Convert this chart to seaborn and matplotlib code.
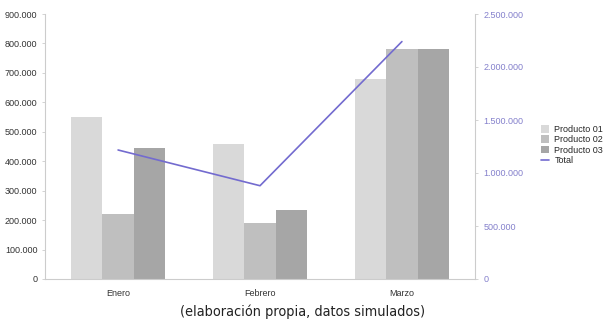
import numpy as np
import pandas as pd
import seaborn as sns
import matplotlib.pyplot as plt
from matplotlib.ticker import FuncFormatter

meses = ["Enero", "Febrero", "Marzo"]
productos = ["Producto 01", "Producto 02", "Producto 03"]
producto_01 = [550000, 457000, 678000]
producto_02 = [222000, 190000, 780000]
producto_03 = [445000, 233000, 782000]
total = [a + b + c for a, b, c in zip(producto_01, producto_02, producto_03)]

colores = ["#d9d9d9", "#bfbfbf", "#a6a6a6"]
color_linea = "#736bcf"
color_eje = "#cccccc"

sns.set_theme(style="white")
plt.rcParams['font.family'] = ['Liberation Sans', 'DejaVu Sans']

df = pd.DataFrame({"mes": meses * 3,
                   "producto": np.repeat(productos, len(meses)),
                   "valor": producto_01 + producto_02 + producto_03})

fig = plt.figure(figsize=(6.06, 3.28), dpi=100)
ax = fig.add_axes([45 / 606, 1 - 279 / 328, 430 / 606, 265 / 328])

sns.barplot(data=df, x="mes", y="valor", hue="producto", palette=colores,
            width=0.66, gap=0, saturation=1, linewidth=0, ax=ax, legend=True)

ax2 = ax.twinx()
sns.lineplot(x=np.arange(len(meses)), y=total, color=color_linea, lw=1.2, ax=ax2, label="Total")

miles = FuncFormatter(lambda v, p: f"{int(v):,}".replace(",", "."))
ax.set_ylim(0, 900000)
ax.set_yticks(np.arange(0, 900001, 100000))
ax.yaxis.set_major_formatter(miles)
ax2.set_ylim(0, 2500000)
ax2.set_yticks(np.arange(0, 2500001, 500000))
ax2.yaxis.set_major_formatter(miles)
ax.set_xlim(-0.515, 2.515)

ax.set_xlabel("")
ax.set_ylabel("")
ax2.set_ylabel("")

for a in (ax, ax2):
    a.spines["top"].set_visible(False)
    for s in ("left", "right", "bottom"):
        a.spines[s].set_color(color_eje)
        a.spines[s].set_linewidth(0.8)
ax.spines["right"].set_visible(False)
ax2.spines["left"].set_visible(False)
ax2.spines["bottom"].set_visible(False)

ax.tick_params(axis="y", left=True, length=2, width=0.6, color=color_eje, labelsize=6.5, labelcolor="#333333", pad=3.5)
ax.tick_params(axis="x", bottom=False, labelsize=6.5, labelcolor="#333333", pad=1)
ax2.tick_params(axis="y", right=True, length=2, width=0.6, color=color_eje, labelsize=6.5, labelcolor="#8480cc", pad=4)

h1, l1 = ax.get_legend_handles_labels()
h2, l2 = ax2.get_legend_handles_labels()
ax.get_legend().remove()
if ax2.get_legend() is not None:
    ax2.get_legend().remove()
fig.legend(h1 + h2, l1 + l2, loc="center left", bbox_to_anchor=(0.885, 1 - 145 / 328),
           frameon=False, fontsize=6.5, handlelength=0.9, handleheight=0.9,
           handletextpad=0.6, labelspacing=0.15, borderpad=0)

fig.text(0.5, 1 - 312 / 328, "(elaboración propia, datos simulados)", ha="center", va="center",
         fontsize=10.4, color="#222222", fontstretch="condensed",
         family=['Liberation Sans Narrow', 'DejaVu Sans'])

fig.savefig("out.png", dpi=100)
